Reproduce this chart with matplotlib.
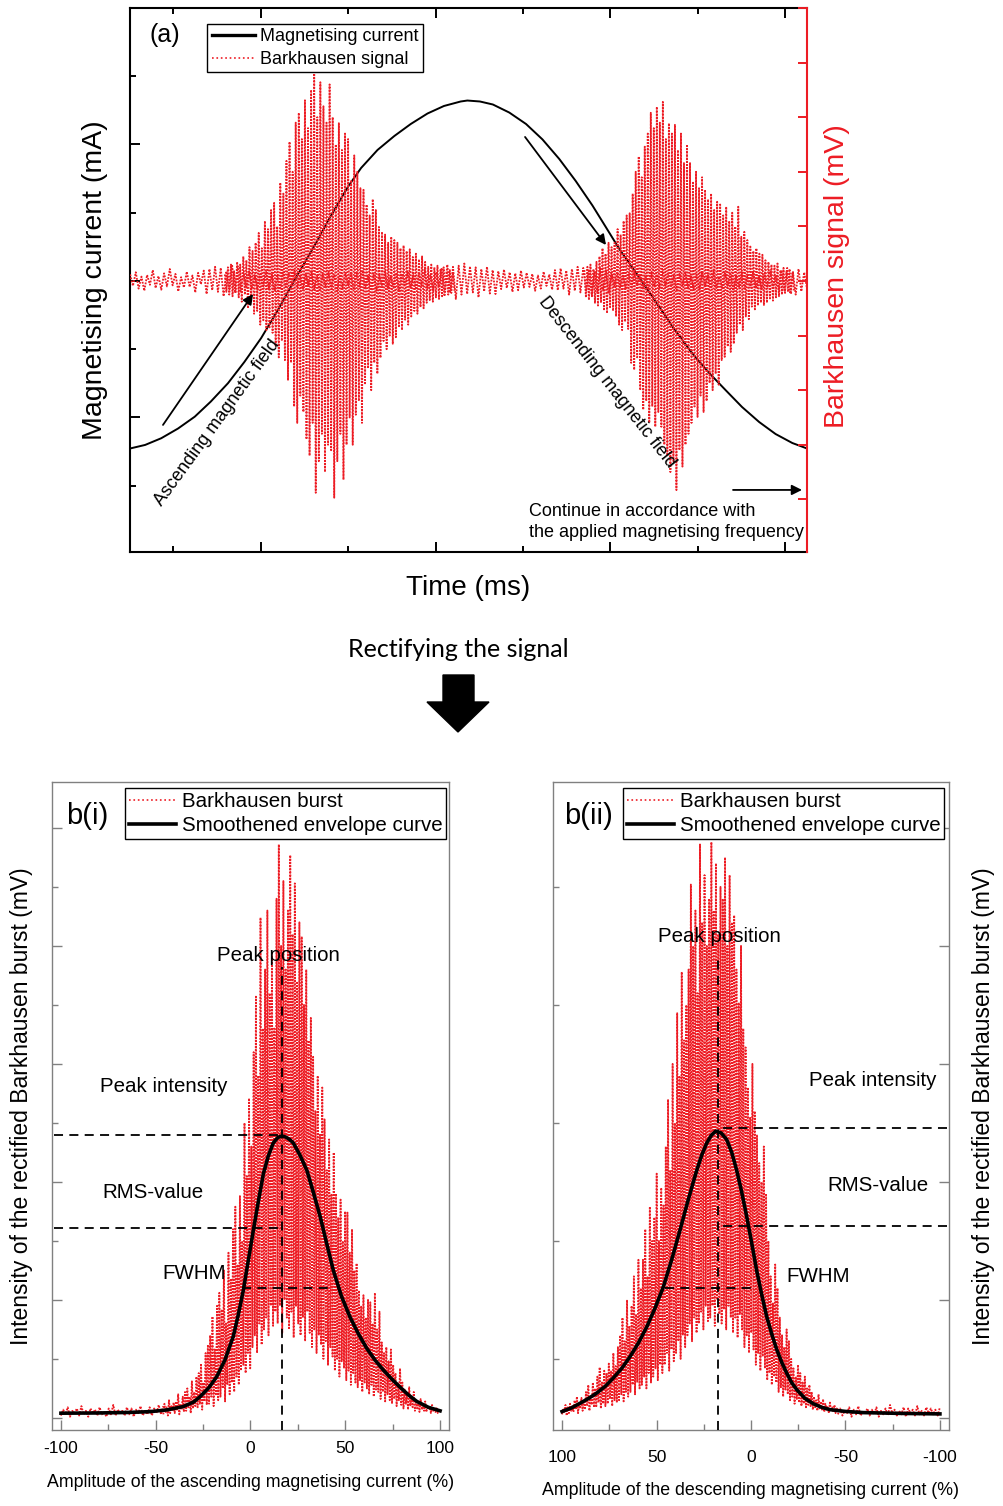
import numpy as np
import matplotlib.pyplot as plt
from matplotlib.lines import Line2D
from matplotlib.patches import Polygon
from matplotlib.ticker import MultipleLocator

plt.rcParams['font.family'] = ['Liberation Sans', 'DejaVu Sans']
plt.rcParams['axes.unicode_minus'] = False

RED = '#ed1c24'
GREY = '#808080'

# ---------------- panel (a): one magnetising cycle ----------------
# magnetising current (time in ms, current in mA)
current_t = [1.26, 1.69, 2.15, 2.63, 3.11, 3.57, 4.06, 4.53, 5.01, 5.49, 6.00,
             6.53, 6.97, 7.49, 7.87, 8.34, 8.82, 9.29, 9.77, 10.24, 10.72,
             10.91, 11.27, 11.64, 12.11, 12.59, 13.06, 13.54, 14.01, 14.49,
             14.87, 15.26, 15.74, 16.21, 16.77, 17.35, 17.83, 18.31, 18.77,
             19.26, 19.73, 20.21, 20.63]
current_ma = [-1.227, -1.201, -1.152, -1.081, -0.994, -0.883, -0.749, -0.593,
              -0.418, -0.212, 0.022, 0.256, 0.462, 0.689, 0.828, 0.960, 1.062,
              1.150, 1.227, 1.282, 1.315, 1.322, 1.315, 1.293, 1.234, 1.150,
              1.037, 0.894, 0.733, 0.553, 0.396, 0.234, 0.059, -0.117, -0.330,
              -0.531, -0.674, -0.802, -0.923, -1.033, -1.121, -1.187, -1.227]

# Barkhausen signal, values in 0.01 mV
noise_span = (1.26, 20.63)
noise_mv = [12, -9, 16, -14, 8, -18, 11, -7, 20, -13,
            9, -16, 14, -10, 22, -8, 13, -19, 7, -12,
            17, -11, 10, -21, 15, -6, 19, -24, 22, -17,
            26, -20, 24, -28, 18, -25, 30, -22, 27, -19,
            15, -12, 18, -14, 11, -16, 13, -10, 17, -15,
            12, -18, 9, -13, 16, -11, 14, -8, 19, -12,
            10, -15, 13, -9, 18, -14, 8, -17, 12, -10,
            16, -12, 11, -19, 9, -13, 15, -8, 13, -16,
            14, -10, 20, -13, 8, -15, 12, -18, 10, -9,
            17, -14, 9, -11, 15, -20, 13, -7, 18, -12,
            11, -16, 14, -9, 21, -13, 10, -17, 16, -11,
            24, -28, 30, -22, 26, -33, 28, -25, 32, -24,
            27, -21, 25, -30, 22, -19, 26, -23, 20, -24,
            18, -15, 21, -13, 16, -20, 14, -17, 19, -12,
            15, -11, 13, -18, 10, -14, 17, -9, 12, -16,
            20, -17, 23, -14, 19, -25, 22, -18, 26, -21,
            24, -19, 21, -26, 18, -22, 25, -17, 20, -23,
            13, -9, 16, -12, 10, -15, 14, -11, 17, -8,
            11, -14, 9, -16, 15, -10, 12, -13, 18, -9,
            14, -11, 10, -17, 13, -8, 16, -12, 9, -15,
            12, -16, 17, -10, 11, -14, 19, -13, 8, -12,
            15, -9, 13, -18, 10, -11, 16, -14, 12, -10,
            17, -13, 9, -15, 14, -12, 18, -10, 11, -16,
            20, -17, 24, -21, 18, -25, 22, -19, 16, -14]

burst1_span = (3.97, 10.54)
burst1_mv = [12, -20, 25, -15, 30, -28, 18, -22, 35, -30,
             30, -38, 45, -25, 38, -50, 62, -35, 55, -60,
             70, -55, 88, -80, 60, -72, 110, -90, 95, -85,
             130, -95, 143, -120, 100, -140, 180, -110, 160, -145,
             220, -181, 255, -150, 200, -230, 290, -260, 308, -210,
             260, -240, 331, -290, 280, -320, 350, -260, 380, -388,
             300, -330, 364, -280, 320, -350, 290, -300, 360, -310,
             300, -397, 250, -330, 289, -280, 240, -364, 270, -300,
             260, -250, 185, -300, 230, -245, 200, -220, 170, -260,
             167, -190, 140, -160, 120, -200, 150, -150, 130, -170,
             99, -141, 90, -110, 85, -125, 70, -100, 81, -115,
             75, -103, 70, -85, 60, -90, 65, -71, 55, -80,
             58, -65, 44, -55, 50, -60, 40, -48, 45, -50,
             35, -40, 26, -35, 30, -38, 25, -30, 28, -33,
             22, -28, 25, -20, 18, -25, 20, -22, 15, -18]

burst2_span = (14.26, 20.26)
burst2_mv = [20, -30, 26, -35, 30, -28, 22, -40, 35, -45,
             45, -40, 60, -52, 50, -59, 70, -48, 62, -55,
             70, -65, 95, -80, 85, -90, 110, -75, 120, -88,
             124, -150, 160, -163, 200, -140, 228, -200, 190, -236,
             246, -220, 270, -260, 308, -230, 280, -267, 319, -240,
             290, -267, 328, -300, 260, -320, 289, -350, 270, -330,
             286, -383, 240, -310, 270, -340, 216, -300, 250, -280,
             216, -260, 180, -230, 200, -249, 170, -210, 190, -240,
             167, -220, 150, -187, 160, -200, 130, -170, 145, -190,
             140, -145, 120, -139, 136, -120, 110, -130, 125, -115,
             100, -95, 136, -80, 81, -90, 90, -65, 75, -70,
             63, -47, 55, -52, 60, -45, 50, -40, 48, -44,
             38, -40, 35, -32, 30, -36, 28, -30, 32, -28,
             20, -25, 24, -22, 18, -20, 22, -24, 16, -18]

# ---------------- panels b(i) and b(ii): rectified bursts ----------------
# values in 0.01 mV, x in % of the magnetising current amplitude
asc_tail_span = (-100, -46)
asc_tail = [2, 7, 3, 9, 1, 6, 4, 8, 2, 10, 3, 6, 1, 8, 4, 7, 2, 9, 3, 5, 1, 8, 3,
            11, 2, 7, 4, 6, 2, 9, 3, 8, 1, 7, 4, 10, 2, 6, 3, 9, 2, 8, 4, 11, 3, 10]
asc_burst_span = (-46, 100)
asc_burst = [3, 12, 5, 9, 2, 15, 4, 10, 6, 13,
             4, 14, 6, 20, 3, 11, 7, 18, 5, 22,
             6, 25, 9, 18, 4, 31, 8, 22, 10, 35,
             9, 38, 12, 46, 7, 30, 14, 55, 11, 62,
             12, 70, 18, 86, 10, 58, 20, 95, 15, 106,
             18, 92, 25, 125, 14, 80, 28, 140, 20, 118,
             30, 160, 22, 179, 35, 130, 28, 188, 40, 150,
             45, 250, 38, 205, 55, 271, 42, 230, 60, 310,
             70, 357, 55, 290, 80, 424, 62, 330, 75, 380,
             85, 430, 70, 360, 95, 395, 78, 330, 90, 440,
             80, 486, 95, 400, 72, 455, 100, 380, 85, 430,
             75, 477, 90, 410, 68, 453, 95, 370, 80, 420,
             70, 408, 85, 350, 65, 380, 90, 320, 72, 339,
             60, 306, 75, 260, 55, 290, 70, 240, 62, 280,
             50, 253, 65, 210, 45, 236, 60, 190, 52, 225,
             40, 190, 50, 170, 35, 185, 48, 150, 42, 175,
             32, 174, 40, 140, 28, 160, 38, 125, 30, 131,
             26, 108, 32, 95, 22, 104, 30, 85, 25, 100,
             20, 98, 28, 80, 18, 106, 24, 75, 22, 90,
             16, 64, 22, 55, 14, 60, 20, 48, 15, 58,
             12, 45, 16, 38, 10, 30, 15, 42, 11, 30,
             8, 24, 12, 20, 7, 26, 10, 18, 9, 22,
             6, 15, 8, 12, 5, 16, 7, 11, 6, 14,
             5, 10, 7, 9, 4, 11, 6, 8, 5, 9, 4, 7, 6]
asc_env_x = [-100, -80, -65, -53, -44, -35.5, -30, -26.6, -22, -17.8, -13.5,
             -9.1, -6.5, -3.8, -1.2, 1.5, 4.2, 6.8, 9.4, 12, 14.3, 16.5, 18.6,
             20.6, 22.6, 26, 29.7, 33, 36.7, 40, 43.7, 48, 52.5, 57, 61.3, 65.7,
             70.1, 74.5, 78.9, 83.3, 87.7, 93.8, 100]
asc_env_y = [0.04, 0.042, 0.046, 0.053, 0.068, 0.096, 0.135, 0.18, 0.255, 0.35,
             0.49, 0.69, 0.87, 1.08, 1.33, 1.59, 1.84, 2.07, 2.22, 2.33, 2.375,
             2.39, 2.38, 2.36, 2.33, 2.23, 2.10, 1.92, 1.71, 1.49, 1.25, 1.03,
             0.855, 0.71, 0.59, 0.49, 0.405, 0.33, 0.26, 0.195, 0.14, 0.09, 0.06]
asc_peak = (16.6, 2.40)
asc_rms = 1.61
asc_fwhm = (-4.5, 43.7, 1.10)

desc_burst_span = (100, -46)
desc_burst = [3, 8, 5, 11, 2, 9, 4, 12, 6, 10,
              5, 15, 7, 18, 4, 12, 8, 17, 6, 14,
              7, 22, 10, 28, 6, 19, 11, 30, 9, 25,
              9, 35, 13, 43, 8, 30, 12, 40, 10, 38,
              12, 46, 16, 40, 10, 55, 15, 44, 13, 60,
              15, 70, 20, 85, 14, 65, 22, 100, 18, 78,
              22, 95, 28, 120, 20, 88, 30, 134, 25, 110,
              28, 134, 35, 160, 25, 120, 38, 179, 30, 150,
              35, 170, 42, 207, 32, 150, 45, 195, 38, 180,
              45, 230, 55, 270, 40, 210, 58, 300, 48, 250,
              55, 343, 65, 290, 50, 378, 70, 320, 60, 350,
              70, 380, 80, 452, 65, 400, 85, 430, 72, 360,
              80, 486, 90, 420, 75, 460, 95, 400, 82, 440,
              85, 488, 95, 430, 78, 470, 100, 410, 88, 450,
              80, 440, 92, 475, 75, 400, 95, 460, 85, 420,
              72, 426, 85, 380, 68, 352, 88, 400, 75, 330,
              60, 314, 70, 280, 55, 255, 72, 300, 58, 260,
              45, 240, 55, 216, 40, 200, 52, 230, 42, 190,
              32, 150, 38, 120, 28, 97, 36, 130, 30, 110,
              22, 85, 26, 70, 18, 60, 24, 75, 20, 65,
              15, 50, 18, 42, 12, 35, 16, 45, 13, 38,
              10, 30, 12, 35, 9, 25, 11, 28, 10, 22,
              7, 18, 9, 15, 6, 20, 8, 14, 7, 16,
              5, 12, 7, 10, 4, 13, 6, 9, 5, 11, 4, 8, 6]
desc_tail_span = (-46, -100)
desc_tail = [3, 8, 2, 6, 4, 9, 1, 7, 3, 10, 2, 5, 4, 8, 2, 7, 3, 9, 1, 6, 3, 8, 2,
             11, 4, 7, 2, 6, 3, 9, 1, 8, 4, 7, 2, 10, 3, 6, 2, 9, 4, 8, 3, 7, 2, 9]
desc_env_x = [100, 95, 90.5, 86, 81.7, 77, 72.8, 68.4, 64, 59.6, 55.2, 50.8, 46.4,
              42, 37.6, 33.2, 28.7, 26, 23.4, 21, 18.7, 15.8, 12.9, 10.2, 7.6, 5,
              2.3, -0.4, -3, -5.6, -8.3, -11, -13.6, -16.3, -18.9, -21.5, -24.2,
              -28.6, -33, -37.4, -41.8, -50, -59.4, -80, -100]
desc_env_y = [0.054, 0.085, 0.124, 0.165, 0.21, 0.27, 0.34, 0.42, 0.52, 0.635,
              0.77, 0.93, 1.11, 1.34, 1.59, 1.85, 2.10, 2.23, 2.33, 2.395, 2.43,
              2.415, 2.36, 2.25, 2.10, 1.92, 1.71, 1.48, 1.25, 1.05, 0.86, 0.71,
              0.58, 0.47, 0.38, 0.30, 0.24, 0.165, 0.12, 0.09, 0.07, 0.055,
              0.045, 0.038, 0.034]
desc_peak = (17.6, 2.46)
desc_rms = 1.63
desc_fwhm = (45.5, -2.1, 1.10)

SIG_LW = 1.3
SIG_LS = (0, (1.0, 0.75))


def series(span, vals):
    return np.linspace(span[0], span[1], len(vals)), np.array(vals) / 100.0


fig = plt.figure(figsize=(10.04, 15.06), dpi=100)

# ---------------- (a) ----------------
ax = fig.add_axes([0.1295, 0.6335, 0.6743, 0.3612])
ax2 = ax.twinx()
ax.plot(current_t, current_ma, color='black', lw=1.4)
for span, vals in [(noise_span, noise_mv), (burst1_span, burst1_mv), (burst2_span, burst2_mv)]:
    x, y = series(span, vals)
    ax2.plot(x, y, ls=SIG_LS, color=RED, lw=SIG_LW)

ax.set_xlim(1.257, 20.63)
ax.set_ylim(-1.985, 2.0)
ax2.set_ylim(-4.963, 5.0)
ax.xaxis.set_major_locator(MultipleLocator(5))
ax.xaxis.set_minor_locator(MultipleLocator(2.5))
ax.yaxis.set_major_locator(MultipleLocator(1))
ax.yaxis.set_minor_locator(MultipleLocator(0.5))
ax2.yaxis.set_major_locator(MultipleLocator(1))
ax.tick_params(which='both', direction='in', top=True, bottom=True, left=True, right=False,
               labelbottom=False, labelleft=False, width=1.4)
ax.tick_params(which='major', length=7.5)
ax.tick_params(which='minor', length=4.5)
ax2.tick_params(axis='y', direction='in', colors=RED, labelright=False, length=6.5, width=1.4)
for s in ax.spines.values():
    s.set_linewidth(1.5)
ax.spines['right'].set_visible(False)
for k in ['left', 'top', 'bottom']:
    ax2.spines[k].set_visible(False)
ax2.spines['right'].set_color(RED)
ax2.spines['right'].set_linewidth(1.5)

ax.set_ylabel('Magnetising current (mA)', fontsize=20.5)
ax.yaxis.set_label_coords(-0.0325, 0.5)
ax2.set_ylabel('Barkhausen signal (mV)', fontsize=20.5, color=RED)
ax2.yaxis.set_label_coords(1.025, 0.507)
ax.set_xlabel('Time (ms)', fontsize=20)
ax.xaxis.set_label_coords(0.5, -0.042)

handles = [Line2D([], [], color='black', lw=2.4), Line2D([], [], color=RED, ls=':', lw=1.2)]
leg = ax2.legend(handles, ['Magnetising current', 'Barkhausen signal'], loc='upper left',
                 bbox_to_anchor=(0.114, 0.9706), borderaxespad=0, fancybox=False,
                 edgecolor='black', fontsize=13, handlelength=2.4, handletextpad=0.3,
                 borderpad=0.25, labelspacing=0.3, framealpha=1)
leg.get_frame().set_linewidth(1.0)

ax2.text(0.052, 0.950, '(a)', transform=ax2.transAxes, fontsize=18, ha='center', va='center')
arrow = dict(arrowstyle='-|>', color='black', lw=1.3, mutation_scale=15, shrinkA=0, shrinkB=0)
ax2.annotate('', xy=(0.1817, 0.4743), xytext=(0.0487, 0.2335), xycoords='axes fraction',
             textcoords='axes fraction', arrowprops=arrow)
ax2.annotate('', xy=(0.7031, 0.5643), xytext=(0.5835, 0.7629), xycoords='axes fraction',
             textcoords='axes fraction', arrowprops=arrow)
ax2.annotate('', xy=(0.9926, 0.114), xytext=(0.8907, 0.114), xycoords='axes fraction',
             textcoords='axes fraction', arrowprops=arrow)
ax2.text(0.1285, 0.2371, 'Ascending magnetic field', transform=ax2.transAxes, fontsize=13,
         rotation=54, ha='center', va='center', rotation_mode='anchor')
ax2.text(0.7046, 0.3125, 'Descending magnetic field', transform=ax2.transAxes, fontsize=13,
         rotation=-52, ha='center', va='center', rotation_mode='anchor')
ax2.text(0.5894, 0.0551, 'Continue in accordance with\nthe applied magnetising frequency',
         transform=ax2.transAxes, fontsize=13, ha='left', va='center', linespacing=1.3)

# ---------------- transition ----------------
fig.text(0.456, 0.569, 'Rectifying the signal', fontsize=18, family=['Lato', 'DejaVu Sans'],
         ha='center', va='center')
arrow_px = [(443, 675), (474, 675), (474, 702), (489, 702), (458, 732), (427, 702), (443, 702)]
fig.patches.append(Polygon([(px / 1004, 1 - py / 1506) for px, py in arrow_px], closed=True,
                           facecolor='black', edgecolor='black', transform=fig.transFigure))


# ---------------- b(i), b(ii) ----------------
def style_bottom(a, side, pad):
    for s in a.spines.values():
        s.set_color(GREY)
        s.set_linewidth(1.0)
    a.set_ylim(-0.102, 5.39)
    a.yaxis.set_major_locator(MultipleLocator(1))
    a.yaxis.set_minor_locator(MultipleLocator(0.5))
    a.xaxis.set_major_locator(MultipleLocator(50))
    a.xaxis.set_minor_locator(MultipleLocator(25))
    a.tick_params(which='both', direction='in', color=GREY, width=1.0, labelsize=12.5)
    a.tick_params(which='major', length=7.5)
    a.tick_params(which='minor', length=4)
    a.tick_params(axis='x', pad=pad)
    a.tick_params(axis='y', labelleft=False, labelright=False,
                  left=(side == 'left'), right=(side == 'right'))


def dashed(a, xs, ys):
    a.plot(xs, ys, color='black', lw=1.3, ls=(0, (5, 3.5)), zorder=4)


legend_handles = [Line2D([], [], color=RED, ls=':', lw=1.2), Line2D([], [], color='black', lw=2.6)]
legend_labels = ['Barkhausen burst', 'Smoothened envelope curve']

panels = [
    ([0.0518, 0.0505, 0.3954, 0.4303], 'left', (-104.7, 104.7), 8.3,
     [(asc_tail_span, asc_tail), (asc_burst_span, asc_burst)], asc_env_x, asc_env_y,
     asc_peak, asc_rms, asc_fwhm, 3.82, 'b(i)', 0.184,
     'Amplitude of the ascending magnetising current (%)', -0.068),
    ([0.5508, 0.0505, 0.3944, 0.4303], 'right', (104.8, -104.8), 14.7,
     [(desc_burst_span, desc_burst), (desc_tail_span, desc_tail)], desc_env_x, desc_env_y,
     desc_peak, desc_rms, desc_fwhm, 3.90, 'b(ii)', 0.177,
     'Amplitude of the descending magnetising current (%)', -0.080),
]

for (rect, side, xlim, pad, bursts, env_x, env_y, peak, rms, fwhm, vtop, tag, legx,
     xlabel, xlab_y) in panels:
    a = fig.add_axes(rect)
    for span, vals in bursts:
        x, y = series(span, vals)
        a.plot(x, y, ls=SIG_LS, color=RED, lw=SIG_LW)
    a.plot(env_x, env_y, color='black', lw=2.6, zorder=5)
    a.set_xlim(*xlim)
    style_bottom(a, side, pad)
    edge = xlim[0] if side == 'left' else xlim[1]
    edge = edge * 0.99
    dashed(a, [peak[0], peak[0]], [-0.102, vtop])
    dashed(a, [edge, peak[0]], [peak[1], peak[1]])
    dashed(a, [edge, peak[0]], [rms, rms])
    dashed(a, [fwhm[0], fwhm[1]], [fwhm[2], fwhm[2]])
    a.set_xlabel(xlabel, fontsize=12.8)
    a.xaxis.set_label_coords(0.5, xlab_y)
    a.set_ylabel('Intensity of the rectified Barkhausen burst (mV)', fontsize=16.5)
    if side == 'left':
        a.yaxis.set_label_coords(-0.048, 0.5)
    else:
        a.yaxis.set_label_position('right')
        a.yaxis.set_label_coords(1.058, 0.5)
    a.text(0.089, 0.947, tag, transform=a.transAxes, fontsize=21, ha='center', va='center')
    lg = a.legend(legend_handles, legend_labels, loc='upper left', bbox_to_anchor=(legx, 0.991),
                  borderaxespad=0, fancybox=False, edgecolor='black', fontsize=14.8,
                  handlelength=2.3, handletextpad=0.25, borderpad=0.2, labelspacing=0.25,
                  framealpha=1)
    lg.get_frame().set_linewidth(1.0)
    lg.set_zorder(10)
    if side == 'left':
        labels = [(14.5, 3.92, 'Peak position'), (-45.6, 2.81, 'Peak intensity'),
                  (-51.5, 1.91, 'RMS-value'), (-29.8, 1.22, 'FWHM')]
    else:
        labels = [(16.9, 4.08, 'Peak position'), (-64.6, 2.86, 'Peak intensity'),
                  (-67.2, 1.97, 'RMS-value'), (-35.7, 1.20, 'FWHM')]
    for tx, ty, s in labels:
        a.text(tx, ty, s, fontsize=14.8, ha='center', va='center', zorder=6)

fig.savefig('out.png', dpi=100)
